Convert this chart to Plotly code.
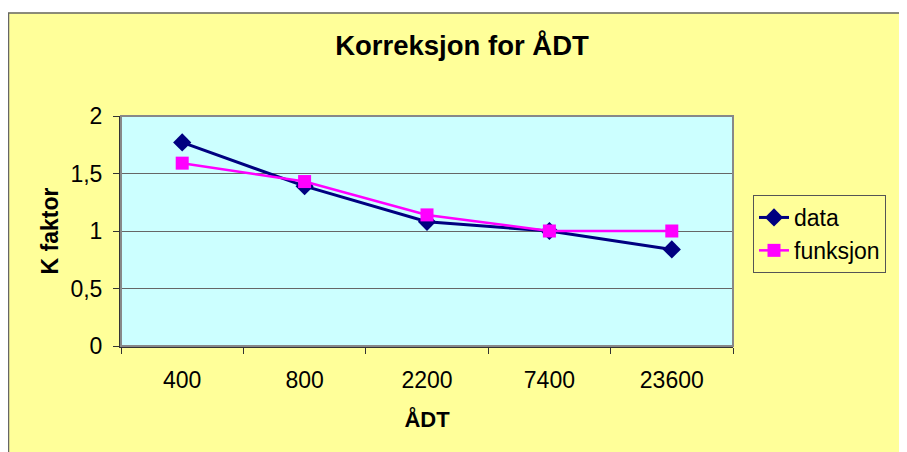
import plotly.graph_objects as go

categories = ["400", "800", "2200", "7400", "23600"]
data_vals = [1.77, 1.39, 1.08, 1.00, 0.84]
funksjon_vals = [1.59, 1.43, 1.14, 1.00, 1.00]
y_tickvals = [0, 0.5, 1, 1.5, 2]
y_ticktext = ["0", "0,5", "1", "1,5", "2"]

# page is offset by the default 8px body margin
OFF = 8
W, H = 907 - OFF, 452 - OFF
L, R, T, B = 121, 733, 116, 346  # plot area in page pixels


def px(x):
    return (x - L) / (R - L)


def py(y):
    return (B - y) / (B - T)


FONT = "Liberation Sans, Arial, sans-serif"

fig = go.Figure()
fig.add_trace(go.Scatter(
    x=categories, y=data_vals, name="data", mode="lines+markers",
    line=dict(color="#000080", width=3),
    marker=dict(symbol="diamond", size=14, color="#000080"),
))
fig.add_trace(go.Scatter(
    x=categories, y=funksjon_vals, name="funksjon", mode="lines+markers",
    line=dict(color="#FF00FF", width=2.5),
    marker=dict(symbol="square", size=13, color="#FF00FF"),
))

fig.update_layout(
    width=W, height=H,
    margin=dict(l=L - OFF, r=907 - R, t=T - OFF, b=452 - B, pad=0),
    paper_bgcolor="#FFFF99",
    plot_bgcolor="#CCFFFF",
    font=dict(family=FONT, size=23, color="black"),
    title=dict(text="<b>Korreksjon for ÅDT</b>", x=(462 - OFF) / W, xanchor="center",
               y=1 - (45 - OFF) / H, yanchor="middle", font=dict(size=27.5, family=FONT)),
    showlegend=True,
    legend=dict(x=px(753), y=py(195), xanchor="left", yanchor="top",
                bgcolor="#FFFF99", bordercolor="#555555", borderwidth=1,
                font=dict(size=23, family=FONT), tracegroupgap=0),
    xaxis=dict(
        type="category", range=[-0.5, 4.5],
        showgrid=False, showline=True, linecolor="#333333", linewidth=2,
        ticks="outside", tickson="boundaries", ticklen=6, tickcolor="#333333",
        tickwidth=1, ticklabelstandoff=12,
        title=dict(text="<b>ÅDT</b>", font=dict(size=22), standoff=20),
        tickfont=dict(size=23), zeroline=False,
    ),
    yaxis=dict(
        range=[0, 2], tickvals=y_tickvals, ticktext=y_ticktext,
        showgrid=True, gridcolor="#666666", gridwidth=1,
        showline=True, linecolor="#333333", linewidth=2,
        ticks="outside", ticklen=6, tickcolor="#333333",
        ticklabelstandoff=6,
        title=dict(text="<b>K faktor</b>", font=dict(size=23), standoff=5),
        tickfont=dict(size=23), zeroline=False,
    ),
    shapes=[
        # plot area border
        dict(type="rect", xref="paper", yref="paper", x0=0, x1=1, y0=0, y1=1,
             line=dict(color="#888888", width=2), layer="above"),
        # white strip above chart border
        dict(type="rect", xref="paper", yref="paper", x0=px(-5), x1=px(915),
             y0=py(12.5), y1=py(-5), fillcolor="white", line=dict(width=0),
             layer="above"),
        # chart border
        dict(type="rect", xref="paper", yref="paper", x0=px(8.5), x1=px(915),
             y0=py(460), y1=py(13), line=dict(color="#666666", width=1.5),
             layer="above"),
    ],
)

fig.write_html("out.html")
